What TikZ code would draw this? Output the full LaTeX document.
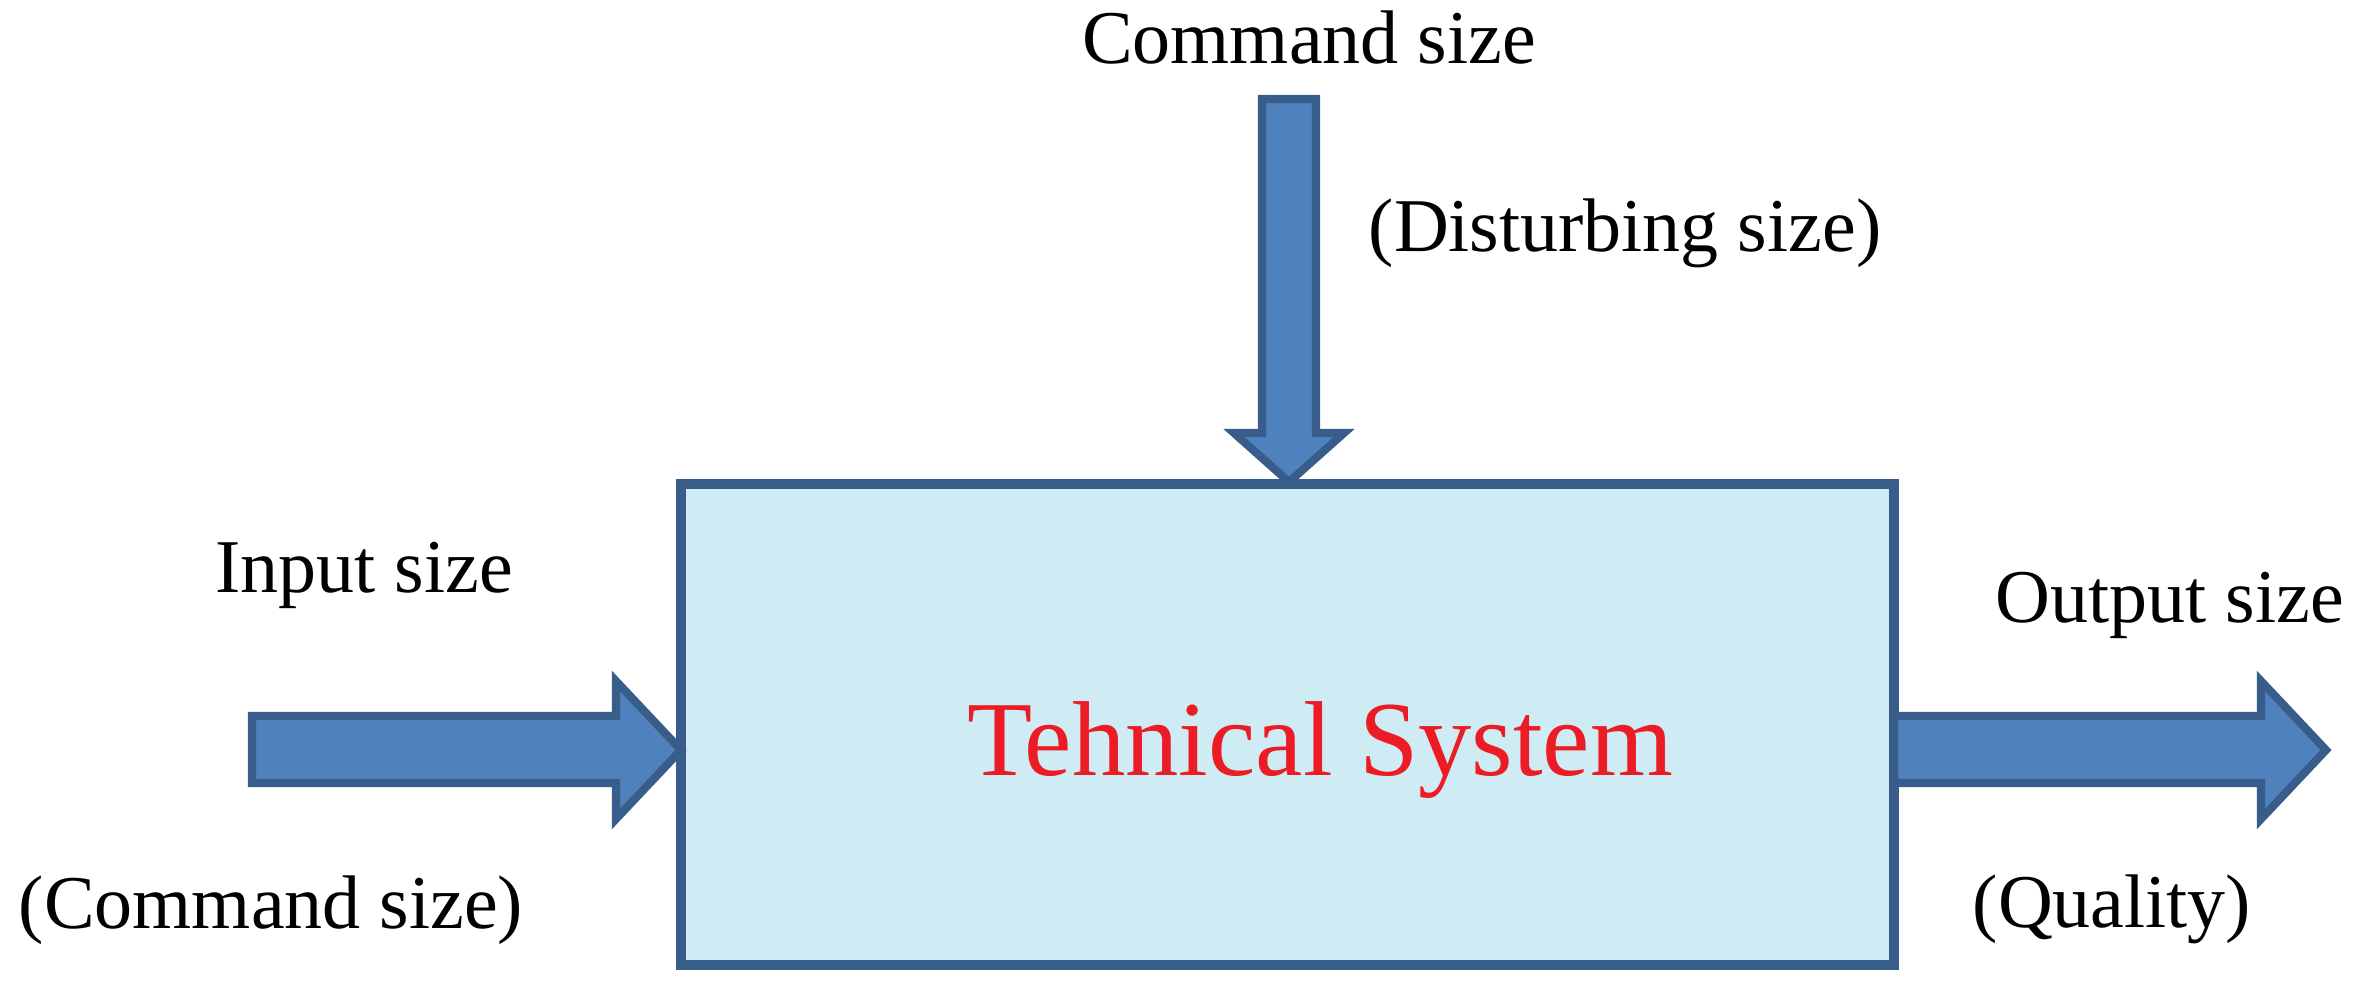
\documentclass[tikz,border=0pt]{standalone}
\usepackage{fontspec}
\setmainfont{Liberation Serif}
\definecolor{arrowfill}{RGB}{79,129,189}
\definecolor{arrowline}{RGB}{56,93,138}
\definecolor{boxfill}{RGB}{207,236,245}
\definecolor{titlered}{RGB}{235,28,36}
\tikzset{
  blockarrow/.style = {draw=arrowline, fill=arrowfill, line width=2.3pt, line join=miter},
  sysbox/.style = {draw=arrowline, fill=boxfill, line width=2.85pt},
  lbl/.style = {inner sep=0pt, font=\fontsize{21.6}{26}\selectfont}
}

\begin{document}
\begin{tikzpicture} [x=0.01cm, y=-0.01cm]
	\useasboundingbox (0,0) rectangle (2360,990);
	% system block
	\draw [sysbox] (681,484) rectangle (1894,965);
	\node [inner sep=0pt, text=titlered, font=\fontsize{30.3}{36}\selectfont] (sys) at (1320,750) {Tehnical System};
	% command arrow from above
	\draw [blockarrow] (1262,99) -- (1316,99) -- (1316,433) -- (1344,433) -- (1289,482) -- (1234,433) -- (1262,433) -- cycle;
	% input arrow
	\draw [blockarrow] (252,716) -- (616,716) -- (616,681) -- (681,750) -- (616,819) -- (616,783) -- (252,783) -- cycle;
	% output arrow
	\draw [blockarrow] (1894,716) -- (2261,716) -- (2261,681) -- (2326,750) -- (2261,819) -- (2261,783) -- (1894,783) -- cycle;
	% labels
	\node [lbl] (cmd) at (1309,38) {Command size};
	\node [lbl] (dist) at (1625,233) {(Disturbing size)};
	\node [lbl] (inp) at (364,575) {Input size};
	\node [lbl] (inpcmd) at (271,910) {(Command size)};
	\node [lbl] (outp) at (2170,605) {Output size};
	\node [lbl] (qual) at (2112,909) {(Quality)};
\end{tikzpicture}
\end{document}
